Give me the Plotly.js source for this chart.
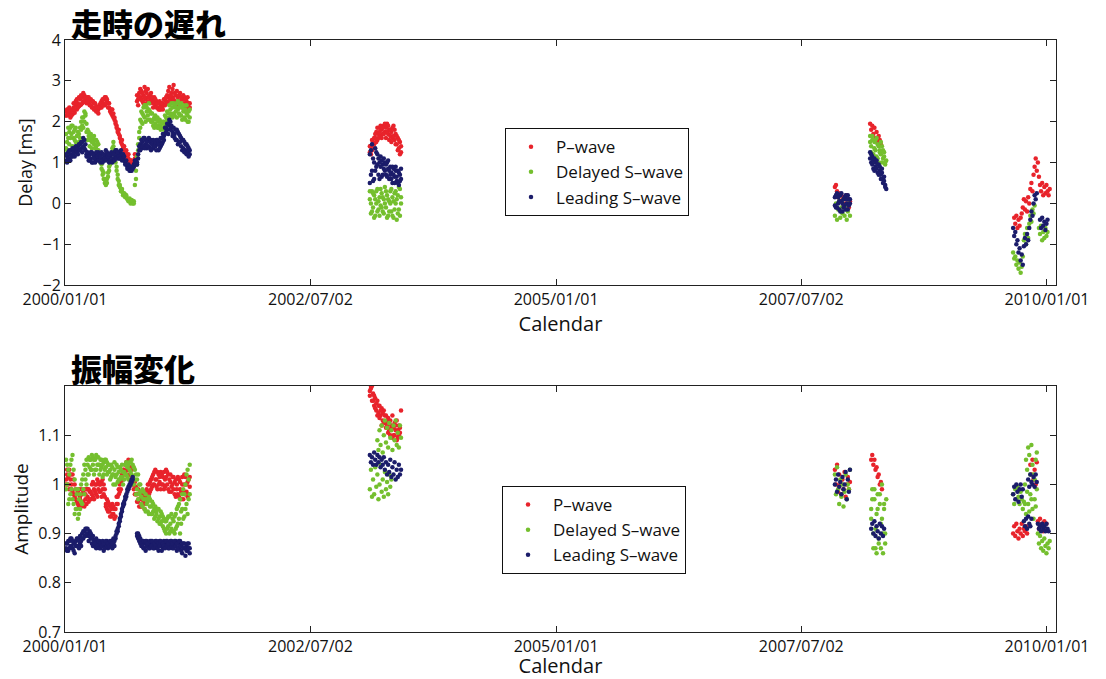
<!DOCTYPE html>
<html>
<head>
<meta charset="utf-8">
<script src="https://cdn.plot.ly/plotly-3.0.1.min.js"></script>
<style>
  html, body { margin: 0; padding: 0; background: #fff; }
  #chart { width: 1106px; height: 679px; }
</style>
</head>
<body>
<div id="chart"></div>
<script>
// Sampling interval of the plotted series (days)
const STEP_DAYS = 4;

// First sample date of each observation run
const runStart = ['2000-01-05', '2003-02-08', '2007-11-04', '2008-03-14', '2009-08-28'];

// Axis ticks
const xTickDates = ['2000-01-01', '2002-07-02', '2005-01-01', '2007-07-02', '2010-01-01'];
const xTickText  = ['2000/01/01', '2002/07/02', '2005/01/01', '2007/07/02', '2010/01/01'];
const delayTicks = [-2, -1, 0, 1, 2, 3, 4];
const ampTicks   = [0.7, 0.8, 0.9, 1, 1.1];
const ampTickText = ['0.7', '0.8', '0.9', '1', '1.1'];

const seriesNames = ['P\u2013wave', 'Delayed S\u2013wave', 'Leading S\u2013wave'];

// ---- Travel-time delay [ms] ----
const dP1 = [2.25,2.15,2.3,2.2,2.1,2.28,2.18,2.35,2.22,2.4,
  2.3,2.45,2.38,2.55,2.42,2.6,2.5,2.65,2.48,2.55,
  2.6,2.45,2.55,2.4,2.5,2.35,2.45,2.3,2.38,2.25,
  2.3,2.4,2.35,2.5,2.45,2.55,2.4,2.6,2.5,2.45,
  2.35,2.25,2.3,2.15,2.2,2.05,1.95,1.9,1.8,1.7,
  1.6,1.55,1.45,1.4,1.3,1.25,1.2,1.15,1.1,1.0,
  1.05,0.95,0.9,1.0,1.1,null,2.5,2.55,2.7,2.6,
  2.75,2.5,2.65,2.85,2.55,2.7,2.6,2.5,2.65,2.55,
  2.5,2.45,2.6,2.4,2.5,2.35,2.45,2.3,2.4,2.35,
  2.45,2.4,2.55,2.5,2.65,2.6,2.85,2.55,2.7,2.6,
  2.9,2.5,2.65,2.45,2.6,2.5,2.7,2.4,2.55,2.45,
  2.6,2.35,2.5,2.4,2.3,2.45];
const dP1b = [2.15,2.3,2.2,2.35,2.25,2.15,2.3,2.45,2.3,2.5,
  2.55,2.35,2.6,2.4,2.65,2.45,2.7,2.5,2.6,2.45,
  2.5,2.6,2.4,2.55,2.35,2.5,2.3,2.45,2.25,2.35,
  2.2,2.35,2.45,2.35,2.55,2.4,2.6,2.45,2.55,2.35,
  2.45,2.3,2.2,2.3,2.1,2.1,2.0,1.85,1.75,1.8,
  1.65,1.5,1.55,1.35,1.4,1.2,1.3,1.1,1.2,1.05,
  0.95,1.05,1.0,0.9,1.2,null,2.65,2.4,2.6,2.8,
  2.55,2.7,2.45,2.6,2.75,2.45,2.8,2.6,2.45,2.7,
  2.6,2.35,2.5,2.55,2.35,2.45,2.3,2.5,2.3,2.45,
  2.3,2.55,2.4,2.6,2.45,2.75,2.5,2.65,2.45,2.8,
  2.55,2.7,2.4,2.75,2.5,2.65,2.45,2.6,2.35,2.65,
  2.4,2.55,2.3,2.6,2.45,2.35];
const dG1 = [1.35,1.5,1.6,1.75,1.85,1.7,1.9,1.6,1.8,1.5,
  1.65,1.45,1.7,1.85,2.0,1.9,2.1,2.25,2.15,1.95,
  1.8,1.65,1.55,1.7,1.5,1.6,1.45,1.55,1.4,1.5,
  1.3,1.2,1.0,0.85,0.7,0.6,0.5,0.45,0.6,0.75,
  0.9,1.05,1.2,1.35,1.4,1.3,1.1,0.9,0.7,0.55,
  0.4,0.35,0.3,0.25,0.2,0.22,0.15,0.12,0.1,0.08,
  0.05,0.02,0.0,0.05,null,0.6,0.95,1.3,1.6,1.85,
  2.0,2.2,2.35,2.1,2.4,2.25,2.15,2.3,2.05,2.2,
  2.0,1.9,2.1,1.95,2.05,1.85,2.0,1.9,1.8,1.95,
  1.85,2.0,1.9,2.1,2.05,2.2,2.1,2.3,2.15,2.35,
  2.2,2.4,2.25,2.45,2.3,2.2,2.4,2.15,2.35,2.25,
  2.1,2.3,2.2,2.0,2.25,2.1];
const dG1b = [1.7,1.3,1.85,1.45,1.6,1.9,1.4,1.75,1.55,1.85,
  1.4,1.75,1.5,1.6,1.8,2.1,1.85,2.0,2.2,1.75,
  1.55,1.75,1.4,1.6,1.35,1.5,1.65,1.35,1.55,1.3,
  1.45,1.05,1.15,0.95,0.8,0.75,0.6,0.55,0.5,0.65,
  0.8,0.95,1.1,1.25,1.5,1.2,1.0,0.8,0.6,0.45,
  0.45,0.3,0.35,0.2,0.25,0.15,0.2,0.1,0.05,0.12,
  0.0,0.08,0.05,0.0,0.45,0.8,1.15,1.45,1.75,2.05,
  2.25,1.95,2.15,2.4,2.0,2.35,2.05,2.45,2.25,2.0,
  2.2,2.05,1.85,2.15,1.9,2.1,1.85,2.05,2.0,1.85,
  2.0,1.8,2.15,1.95,2.25,2.0,2.4,2.2,2.45,2.1,
  2.45,2.15,2.35,2.1,2.5,2.35,2.15,2.45,2.05,2.4,
  2.3,2.05,2.4,2.15,2.0,2.3];
const dB1 = [1.05,1.15,1.25,1.1,1.2,1.3,1.15,1.25,1.35,1.3,
  1.25,1.4,1.3,1.45,1.35,1.5,1.4,1.55,1.3,1.2,
  1.15,1.05,1.2,1.1,1.25,1.0,1.15,1.2,1.05,1.1,
  1.25,1.15,1.0,1.1,1.2,1.05,1.15,1.3,1.2,1.1,
  1.0,1.15,1.05,1.2,1.1,1.25,1.15,1.3,1.2,1.1,
  1.25,1.15,1.2,1.1,1.05,1.0,0.95,0.9,0.85,0.9,
  0.8,0.85,0.9,0.95,1.0,1.05,0.95,1.1,1.3,1.45,
  1.35,1.5,1.4,1.6,1.45,1.35,1.55,1.4,1.5,1.3,
  1.45,1.35,1.5,1.4,1.55,1.45,1.3,1.5,1.4,1.6,
  1.5,1.65,1.7,1.85,1.8,1.95,1.9,2.0,1.85,1.75,
  1.7,1.6,1.8,1.55,1.75,1.5,1.65,1.4,1.55,1.35,
  1.5,1.3,1.45,1.25,1.35,1.2];
const dB1b = [1.2,1.0,1.1,1.3,1.05,1.15,1.35,1.2,1.15,1.4,
  1.35,1.2,1.45,1.3,1.5,1.25,1.6,1.35,1.45,1.15,
  1.25,1.15,1.05,1.25,1.0,1.2,1.1,1.0,1.25,1.15,
  1.05,1.2,1.15,1.25,1.0,1.2,1.1,1.05,1.25,1.15,
  1.2,1.05,1.25,1.0,1.2,1.05,1.3,1.1,1.25,1.15,
  1.1,1.3,1.05,1.2,1.15,0.95,1.05,0.85,0.95,0.8,
  0.9,0.8,0.85,0.9,1.05,0.95,1.0,1.2,1.4,1.3,
  1.55,1.4,1.6,1.35,1.55,1.5,1.4,1.6,1.35,1.55,
  1.35,1.55,1.4,1.5,1.3,1.55,1.45,1.35,1.6,1.45,
  1.7,1.55,1.85,1.75,1.95,1.7,2.05,1.8,1.9,1.65,
  1.85,1.7,1.55,1.8,1.45,1.7,1.5,1.6,1.3,1.55,
  1.25,1.45,1.2,1.4,1.15,1.3];

const dP2  = [1.25,1.4,1.3,1.5,1.45,1.6,1.75,1.55,1.7,1.85,1.65,1.8,1.7,1.9,1.75,
  1.85,1.95,1.7,1.8,1.65,1.75,1.6,1.9,1.55,1.7,1.45,1.6,1.35,1.5,1.25];
const dP2b = [1.4,1.2,1.55,1.35,1.6,1.7,1.5,1.85,1.6,1.75,1.9,1.6,1.85,1.7,1.95,
  1.6,1.75,1.9,1.55,1.8,1.5,1.85,1.65,1.8,1.45,1.65,1.3,1.55,1.2,1.4];
const dG2  = [0.1,-0.25,0.3,-0.1,0.2,-0.3,0.0,0.35,-0.15,0.15,-0.05,0.25,-0.2,0.1,0.4,
  -0.1,0.2,-0.3,0.05,0.3,-0.2,0.15,-0.35,0.25,0.0,-0.4,0.2,-0.15,0.35,0.0];
const dG2b = [0.3,0.0,-0.2,0.25,-0.35,0.1,0.3,-0.2,0.05,-0.3,0.35,-0.1,0.15,-0.25,0.0,
  0.3,-0.35,0.1,-0.2,0.0,0.35,-0.3,0.05,-0.15,0.3,0.1,-0.25,0.4,-0.3,0.15];
const dB2  = [0.5,1.3,0.8,1.1,0.6,1.35,0.9,1.2,0.7,1.0,1.15,0.65,0.95,1.1,0.8,
  0.7,1.0,0.85,0.6,0.9,0.75,0.5,0.85,0.65,0.9,0.55,0.8,0.45,0.7,0.6];
const dB2b = [1.2,0.7,1.45,0.55,1.0,0.8,1.25,0.95,1.1,0.6,0.9,1.05,0.7,0.85,1.0,
  0.95,0.65,1.05,0.8,0.7,0.6,0.9,0.7,0.5,0.8,0.65,0.5,0.75,0.55,0.85];

const dP3  = [0.4,0.45,0.3,0.15,0.25,0.05,0.2,0.1,-0.05,0.15,0.0,0.2,0.1,-0.1,0.05];
const dG3  = [-0.3,0.0,-0.4,-0.15,0.05,-0.35,-0.1,-0.25,0.1,-0.3,-0.05,-0.4,-0.2,0.0,-0.3];
const dB3  = [0.15,-0.1,0.25,0.0,-0.15,0.2,0.05,-0.2,0.1,-0.05,0.2,0.0,-0.15,0.1,0.0];
const dB3b = [-0.05,0.2,-0.1,0.15,0.05,-0.2,0.25,0.0,-0.1,0.15,-0.15,0.1,0.2,-0.05,0.1];

const dP4  = [1.95,1.8,1.9,1.7,1.85,1.6,1.75,1.5,1.65,1.55,1.45];
const dG4  = [1.65,1.4,1.55,1.2,1.5,1.3,1.6,1.1,1.4,1.25,1.5,1.0,1.3,1.15,0.95,1.05];
const dG4b = [1.5,1.25,1.65,1.05,1.35,1.55,1.15,1.45,1.0,1.3,1.2,1.4,1.1,1.25,1.0];
const dB4  = [1.25,1.0,1.15,0.85,1.1,0.9,1.05,0.75,0.95,0.8,0.7,0.85,0.6,0.55,0.45,0.35];
const dB4b = [1.1,1.2,0.95,1.05,0.8,1.0,0.85,0.95,0.7,0.9,0.6,0.75,0.5,0.65,0.4];

const dP5 = [null,-0.35,-0.5,-0.3,-0.6,-0.4,-0.55,-0.35,-0.25,-0.1,
  0.1,-0.15,0.05,-0.2,0.15,0.0,0.35,0.5,0.3,0.7,
  0.9,1.1,0.8,1.0,0.65,0.45,0.3,0.5,0.2,0.4,
  0.25,0.45,0.3,0.2,0.35];
const dG5 = [-1.2,-1.35,-1.3,-1.5,-1.4,-1.6,-1.45,-1.7,-1.55,-1.3,
  -0.9,-0.75,-1.0,-0.6,-0.85,-0.5,-0.3,-0.45,-0.15,-0.25,
  -0.05,null,null,null,-0.6,-0.75,-0.55,-0.9,-0.7,-0.85,
  -0.6,-0.8,-0.7,null,null];
const dB5 = [-0.6,-0.8,-0.7,-1.0,-0.9,-1.2,-1.1,-1.4,-1.25,-1.5,
  -1.05,-0.85,-1.0,-0.75,-0.9,-0.6,-0.4,-0.2,-0.3,0.0,
  0.2,0.1,0.25,null,null,-0.4,-0.6,-0.35,-0.55,-0.45,
  -0.65,-0.5,-0.4,null,null];

// ---- Amplitude ratio ----
const aP1 = [1.01,1.02,1.0,1.03,1.01,0.99,1.02,0.98,1.0,0.97,
  0.98,0.96,0.99,0.97,0.955,0.98,0.965,0.99,0.97,0.96,
  0.975,0.99,0.97,0.985,1.0,0.975,0.99,1.0,0.98,1.01,
  0.99,1.0,0.985,1.005,0.99,1.0,0.975,0.96,0.95,0.965,
  0.945,0.955,0.935,0.96,0.94,0.95,0.935,0.96,0.975,0.99,
  0.985,1.005,1.02,1.01,1.03,1.04,1.02,1.045,1.03,1.02,
  1.035,1.015,1.0,0.99,1.005,0.98,0.965,0.99,0.97,0.955,
  0.97,0.96,0.985,0.95,0.975,0.99,0.97,1.0,0.985,1.01,
  0.995,1.02,1.0,1.03,1.01,0.99,1.02,1.005,1.025,1.0,
  1.015,0.99,1.01,1.03,1.0,1.02,0.985,1.005,0.995,1.015,
  0.99,1.005,0.975,1.0,0.98,1.01,0.99,0.97,1.0,0.985,
  1.02,0.98,1.0,0.975,1.01,0.995];
const aP1b = [1.0,1.03,1.015,0.99,1.02,1.0,0.985,1.01,0.975,0.99,
  0.965,0.985,0.955,0.975,0.99,0.96,0.985,0.955,0.98,0.99,
  0.99,0.965,0.985,0.97,0.98,1.005,0.97,0.985,1.0,0.975,
  1.005,0.985,1.0,0.975,1.01,0.98,0.99,0.955,0.97,0.945,
  0.96,0.935,0.95,0.94,0.955,0.93,0.95,0.975,0.96,0.98,
  1.0,0.99,1.01,1.03,1.02,1.025,1.045,1.03,1.05,1.035,
  1.02,1.03,1.01,1.0,0.98,0.995,0.98,0.965,0.955,0.98,
  0.955,0.98,0.965,0.975,0.96,0.985,1.0,0.98,1.005,0.99,
  1.015,1.0,1.025,1.01,0.995,1.025,1.0,1.015,0.99,1.02,
  1.0,1.025,0.995,1.015,1.025,0.99,1.01,1.02,0.985,1.0,
  1.015,0.98,1.01,0.99,1.015,0.975,1.005,0.985,1.015,0.97,
  1.0,1.015,0.985,1.005,0.98,1.015];
const aG1 = [1.05,1.0,1.03,0.97,1.04,0.99,1.06,0.96,1.01,0.95,
  0.98,0.93,0.97,0.95,1.0,0.96,1.02,0.98,1.03,1.0,
  1.04,1.02,1.05,1.03,1.06,1.04,1.02,1.05,1.03,1.055,
  1.04,1.02,1.05,1.035,1.015,1.045,1.03,1.05,1.02,1.04,
  1.025,1.01,1.04,1.02,1.0,1.03,1.015,1.04,1.005,1.025,
  1.01,1.03,1.015,1.0,1.025,1.04,1.02,1.035,1.01,1.03,
  1.045,1.02,1.04,1.0,1.03,0.98,1.01,0.97,1.0,0.985,
  0.96,0.99,0.97,0.95,0.98,0.96,0.945,0.975,0.955,0.94,
  0.965,0.945,0.93,0.955,0.94,0.925,0.95,0.935,0.92,0.94,
  0.915,0.93,0.905,0.925,0.91,0.935,0.9,0.92,0.94,0.905,
  0.925,0.9,0.94,0.915,0.955,0.93,0.97,0.92,0.95,0.99,
  0.935,1.0,0.96,1.03,0.97,1.04];
const aG1b = [0.99,1.04,0.96,1.02,0.98,1.05,0.97,1.03,0.94,0.99,
  0.95,0.99,0.94,0.98,0.965,1.01,0.99,1.04,1.01,1.05,
  1.02,1.055,1.035,1.05,1.03,1.055,1.05,1.03,1.06,1.04,
  1.055,1.04,1.03,1.05,1.04,1.02,1.05,1.035,1.045,1.025,
  1.04,1.03,1.015,1.035,1.02,1.045,1.0,1.02,1.035,1.01,
  1.035,1.015,1.04,1.025,1.01,1.02,1.045,1.015,1.04,1.045,
  1.025,1.05,1.015,1.035,1.01,1.02,0.99,1.02,0.98,1.0,
  0.975,0.955,0.985,0.97,0.945,0.97,0.965,0.94,0.97,0.955,
  0.94,0.96,0.95,0.935,0.945,0.95,0.93,0.92,0.945,0.925,
  0.935,0.91,0.925,0.9,0.93,0.915,0.935,0.905,0.91,0.93,
  0.905,0.935,0.91,0.95,0.92,0.96,0.9,0.945,0.98,0.93,
  0.98,0.95,1.02,0.94,1.01,0.98];
const aB1 = [0.87,0.88,0.865,0.885,0.875,0.89,0.87,0.88,0.86,0.885,
  0.875,0.89,0.87,0.88,0.885,0.9,0.89,0.905,0.895,0.91,
  0.9,0.895,0.905,0.89,0.88,0.895,0.875,0.885,0.87,0.88,
  0.875,0.885,0.87,0.88,0.875,0.865,0.88,0.875,0.885,0.87,
  0.88,0.875,0.885,0.87,0.88,0.885,0.89,0.9,0.905,0.915,
  0.925,0.935,0.945,0.955,0.96,0.97,0.975,0.985,0.99,0.995,
  1.0,1.005,1.01,null,null,null,0.9,0.89,0.895,0.88,
  0.875,0.885,0.87,0.88,0.865,0.885,0.875,0.88,0.87,0.885,
  0.875,0.88,0.87,0.885,0.875,0.88,0.865,0.885,0.875,0.88,
  0.87,0.885,0.88,0.875,0.885,0.87,0.88,0.875,0.885,0.87,
  0.88,0.875,0.885,0.865,0.88,0.87,0.885,0.875,0.86,0.88,
  0.87,0.855,0.875,0.865,0.88,0.87];
const aB1b = [0.88,0.865,0.885,0.87,0.89,0.875,0.885,0.865,0.88,0.875,
  0.89,0.875,0.885,0.895,0.875,0.89,0.905,0.895,0.91,0.9,
  0.91,0.885,0.895,0.9,0.89,0.875,0.885,0.88,0.89,0.875,
  0.885,0.87,0.88,0.875,0.885,0.88,0.87,0.885,0.875,0.88,
  0.875,0.885,0.875,0.88,0.89,0.875,0.895,0.905,0.91,0.92,
  0.93,0.94,0.95,0.96,0.965,0.975,0.98,0.99,0.995,1.0,
  1.005,1.01,1.015,null,null,null,0.895,0.9,0.885,0.89,
  0.88,0.875,0.885,0.87,0.885,0.875,0.88,0.87,0.885,0.875,
  0.885,0.87,0.88,0.875,0.885,0.87,0.88,0.875,0.885,0.865,
  0.88,0.875,0.87,0.885,0.875,0.88,0.87,0.885,0.875,0.88,
  0.87,0.885,0.875,0.88,0.87,0.885,0.875,0.865,0.88,0.87,
  0.88,0.87,0.865,0.88,0.87,0.86];

const aP2  = [1.19,1.2,1.17,1.185,1.16,1.175,1.15,1.17,1.145,1.16,1.14,1.155,1.13,1.15,1.125,
  1.14,1.12,1.135,1.11,1.13,1.115,1.14,1.1,1.125,1.11,1.13,1.095,1.12,1.105,1.15];
const aP2b = [1.18,1.195,1.2,1.17,1.18,1.155,1.165,1.14,1.16,1.135,1.15,1.12,1.145,1.125,1.14,
  1.115,1.13,1.105,1.125,1.1,1.12,1.095,1.115,1.1,1.12,1.09,1.11,1.1,1.115];
const aG2  = [0.99,1.03,0.975,1.01,0.98,1.035,0.995,1.02,0.97,1.0,1.04,0.985,1.01,0.975,1.025,
  0.99,1.005,0.98,1.02,0.995,1.01];
const aG2b = [null,null,null,null,null,null,null,1.09,1.07,1.11,1.08,1.12,1.065,1.1,1.13,
  1.085,1.115,1.075,1.125,1.095,1.11,1.07,1.12,1.09,1.13,1.08,1.105,1.075,1.12,1.095];
const aB2  = [1.06,1.045,1.055,1.04,1.065,1.05,1.04,1.06,1.045,1.055,1.035,1.05,1.04,1.055,1.03,
  1.045,1.02,1.04,1.025,1.05,1.015,1.035,1.02,1.045,1.01,1.03,1.015,1.04,1.02,1.03];

const aP3 = [1.03,1.0,1.04,0.985,1.02,1.0,0.98,1.01,0.99,1.025,0.975,1.0,1.015,0.99,1.005];
const aG3 = [1.02,0.98,1.035,0.99,0.96,1.01,0.975,1.0,0.955,0.985,1.02,0.97,1.0,0.99,1.03];
const aB3 = [1.0,1.01,0.985,1.02,0.995,1.005,0.98,1.015,0.99,1.0,1.025,0.97,1.01,0.985,1.03];

const aP4  = [null,1.05,1.06,1.04,1.05,1.03,1.035,1.015,1.02,1.0,1.005,0.99];
const aG4  = [null,0.95,0.99,0.9,0.97,0.87,0.94,0.98,0.88,0.96,0.92,1.0,0.86,0.95,0.9,0.97];
const aG4b = [null,0.93,0.97,0.87,0.99,0.91,0.86,0.95,0.89,0.98,0.87,0.93,0.9,0.96,0.88];
const aB4  = [null,0.91,0.92,0.9,0.925,0.895,0.915,0.905,0.89,0.92,0.9,0.915,0.895,0.91];

const aP5 = [0.9,0.915,0.895,0.92,0.905,0.89,0.91,0.9,0.92,0.895,
  0.91,0.905,0.915,0.9,null,null,1.04,1.02,1.05,1.01,
  1.03,1.0,1.045,0.925,0.91,0.93,0.915,0.92,0.905,0.925,
  0.91,0.92,null,null,null];
const aG5 = [0.98,0.96,0.99,0.97,0.995,0.975,0.96,0.985,0.97,0.95,
  0.965,1.0,0.94,1.03,0.96,1.06,0.98,1.08,0.95,1.02,
  0.97,1.05,0.99,0.9,0.88,0.895,0.87,0.885,0.865,0.89,
  0.875,0.86,0.88,0.87,0.885];
const aG5b = [null,null,null,null,null,null,null,null,null,null,
  null,0.96,1.05,0.985,1.075,0.945,1.02,0.97,1.04,0.93,1.01,0.955,1.065];
const aB5 = [0.98,0.995,0.97,1.0,0.985,0.965,0.99,1.0,0.975,0.99,
  0.925,0.915,0.93,0.91,0.935,0.92,0.915,0.93,1.0,1.015,
  0.995,1.02,1.005,0.92,0.91,0.915,0.905,0.92,0.91,0.915,
  0.905,0.92,0.91,0.905,null];
const aB5b = [null,null,null,null,null,null,null,null,null,null,
  null,null,null,null,1.01,0.995,1.02,1.005];

// Which arrays belong to which series, paired with their run index
const delayRuns = [
  [[0, dP1], [0, dP1b], [1, dP2], [1, dP2b], [2, dP3], [3, dP4], [4, dP5]],
  [[0, dG1], [0, dG1b], [1, dG2], [1, dG2b], [2, dG3], [3, dG4], [3, dG4b], [4, dG5]],
  [[0, dB1], [0, dB1b], [1, dB2], [1, dB2b], [2, dB3], [2, dB3b], [3, dB4], [3, dB4b], [4, dB5]]
];
const ampRuns = [
  [[0, aP1], [0, aP1b], [1, aP2], [1, aP2b], [2, aP3], [3, aP4], [4, aP5]],
  [[0, aG1], [0, aG1b], [1, aG2], [1, aG2b], [2, aG3], [3, aG4], [3, aG4b], [4, aG5], [4, aG5b]],
  [[0, aB1], [0, aB1b], [1, aB2], [2, aB3], [3, aB4], [4, aB5], [4, aB5b]]
];

const colors = ['#e8232b', '#74bf2e', '#1b1c6a'];

// Turn runs of regularly sampled values into date/value pairs
function collect(runs) {
  const x = [], y = [];
  runs.forEach(([r, vals]) => {
    const t0 = Date.parse(runStart[r] + 'T00:00:00Z');
    vals.forEach((v, i) => {
      if (v === null) return;
      x.push(new Date(t0 + i * STEP_DAYS * 86400000).toISOString().slice(0, 10));
      y.push(v);
    });
  });
  return { x, y };
}

const traces = [];
[[delayRuns, 'x', 'y', 'legend'], [ampRuns, 'x2', 'y2', 'legend2']].forEach(([group, xa, ya, lg]) => {
  group.forEach((runs, k) => {
    const d = collect(runs);
    traces.push({
      type: 'scatter', mode: 'markers',
      x: d.x, y: d.y, name: seriesNames[k],
      xaxis: xa, yaxis: ya, legend: lg,
      marker: { color: colors[k], size: 4.5, line: { width: 0 } },
      hoverinfo: 'x+y+name'
    });
  });
});

const FONT = '"Open Sans", "DejaVu Sans", sans-serif';
const xRange = ['2000-01-01', '2010-02-03 12:00'];

function xAxis(anchor) {
  return {
    type: 'date', anchor: anchor, range: xRange,
    tickmode: 'array', tickvals: xTickDates, ticktext: xTickText,
    ticks: 'inside', ticklen: 6, tickcolor: '#222',
    showline: true, linecolor: '#222', linewidth: 1, mirror: 'ticks',
    showgrid: false, zeroline: false,
    tickfont: { family: FONT, size: 16, color: '#111' },
    title: { text: 'Calendar', font: { family: FONT, size: 20, color: '#111' }, standoff: 2 }
  };
}

function yAxisBase() {
  return {
    ticks: 'inside', ticklen: 6, tickcolor: '#222',
    showline: true, linecolor: '#222', linewidth: 1, mirror: 'ticks',
    showgrid: false, zeroline: false,
    tickfont: { family: FONT, size: 16, color: '#111' }
  };
}

const layout = {
  width: 1106, height: 679,
  margin: { l: 65, r: 50, t: 40, b: 47 },
  paper_bgcolor: '#fff', plot_bgcolor: '#fff',
  font: { family: FONT, color: '#111' },
  showlegend: true,
  xaxis: Object.assign(xAxis('y'), { domain: [0, 1] }),
  xaxis2: Object.assign(xAxis('y2'), { domain: [0, 1] }),
  yaxis: Object.assign(yAxisBase(), {
    domain: [0.586, 1], anchor: 'x', range: [-2, 4],
    tickmode: 'array', tickvals: delayTicks,
    title: { text: 'Delay [ms]', standoff: 5, font: { family: FONT, size: 18, color: '#111' } }
  }),
  yaxis2: Object.assign(yAxisBase(), {
    domain: [0, 0.4155], anchor: 'x2', range: [0.7, 1.2],
    tickmode: 'array', tickvals: ampTicks, ticktext: ampTickText,
    title: { text: 'Amplitude', standoff: 4, font: { family: FONT, size: 19, color: '#111' } }
  }),
  legend: {
    x: 0.444, y: 0.851, xanchor: 'left', yanchor: 'top',
    bgcolor: '#fff', bordercolor: '#111', borderwidth: 1, itemwidth: 40,
    font: { family: FONT, size: 17, color: '#111' }
  },
  legend2: {
    x: 0.441, y: 0.2466, xanchor: 'left', yanchor: 'top',
    bgcolor: '#fff', bordercolor: '#111', borderwidth: 1, itemwidth: 40,
    font: { family: FONT, size: 17, color: '#111' }
  },
  annotations: [
    { text: '走時の遅れ', xref: 'paper', yref: 'paper', x: 0.004, y: 1.03,
      xanchor: 'left', yanchor: 'middle', showarrow: false,
      font: { family: '"Noto Sans CJK JP", sans-serif', size: 31, weight: 900, color: '#000' } },
    { text: '振幅変化', xref: 'paper', yref: 'paper', x: 0.004, y: 0.446,
      xanchor: 'left', yanchor: 'middle', showarrow: false,
      font: { family: '"Noto Sans CJK JP", sans-serif', size: 31, weight: 900, color: '#000' } }
  ]
};

Plotly.newPlot('chart', traces, layout, { displayModeBar: false, staticPlot: true });
</script>
</body>
</html>
